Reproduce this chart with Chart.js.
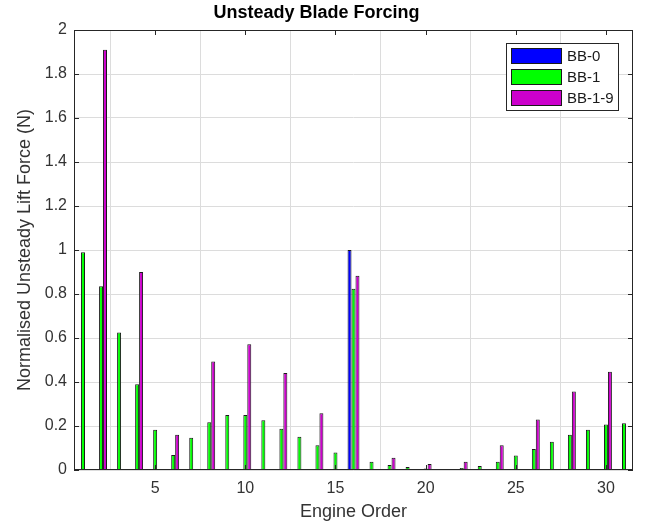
<!DOCTYPE html>
<html>
<head>
<meta charset="utf-8">
<script src="https://cdn.jsdelivr.net/npm/chart.js@4.4.1/dist/chart.umd.min.js"></script>
<style>
  html, body { margin: 0; padding: 0; background: #ffffff; }
  #wrap { width: 649px; height: 527px; }
</style>
</head>
<body>
<div id="wrap"><canvas id="c" width="649" height="527"></canvas></div>
<script>
// Engine orders on the x axis
const engineOrder = [1, 2, 3, 4, 5, 6, 7, 8, 9, 10, 11, 12, 13, 14, 15, 16,
                     17, 18, 19, 20, 21, 22, 23, 24, 25, 26, 27, 28, 29, 30, 31];

// Normalised unsteady lift force per engine order
const bb0 = [0, 0, 0, 0, 0, 0, 0, 0, 0, 0, 0, 0, 0, 0, 0, 1.0,
             0, 0, 0, 0, 0, 0, 0, 0, 0, 0, 0, 0, 0, 0, 0];
const bb1 = [0.99, 0.835, 0.625, 0.39, 0.183, 0.068, 0.147, 0.217, 0.25, 0.25, 0.226, 0.188, 0.151, 0.113, 0.079, 0.824,
             0.038, 0.023, 0.014, 0.007, 0.004, 0.009, 0.018, 0.038, 0.066, 0.095, 0.128, 0.16, 0.183, 0.207, 0.212];
const bb19 = [0, 1.91, 0, 0.90, 0, 0.16, 0, 0.493, 0, 0.572, 0, 0.441, 0, 0.258, 0, 0.883,
              0, 0.056, 0, 0.027, 0, 0.038, 0, 0.112, 0, 0.229, 0, 0.357, 0, 0.447, 0];

const seriesNames = ['BB-0', 'BB-1', 'BB-1-9'];
const seriesColors = ['#0000ff', '#00ff00', '#cc00cc'];

// Axis ticks
const xTickValues = [5, 10, 15, 20, 25, 30];
const yTickValues = [0, 0.2, 0.4, 0.6, 0.8, 1, 1.2, 1.4, 1.6, 1.8, 2];

const FONT = "'Liberation Sans', Arial, Helvetica, sans-serif";
const TEXT = '#333333';

// zero entries are left empty so no outline is drawn on the baseline
const toPoints = arr => engineOrder.map((e, i) => ({ x: e, y: arr[i] === 0 ? null : arr[i] }));

// Box frame with inward ticks on all four sides, plus the boxed legend
const framePlugin = {
  id: 'frame',
  afterDatasetsDraw(chart) {
    const { ctx, chartArea: a, scales: { x, y } } = chart;
    ctx.save();
    ctx.strokeStyle = '#262626';
    ctx.lineWidth = 1;
    ctx.strokeRect(a.left + 0.5, a.top + 0.5, a.right - a.left - 1, a.bottom - a.top - 1);
    const tl = 5;
    ctx.beginPath();
    xTickValues.forEach(v => {
      const px = Math.round(x.getPixelForValue(v)) + 0.5;
      ctx.moveTo(px, a.bottom); ctx.lineTo(px, a.bottom - tl);
      ctx.moveTo(px, a.top); ctx.lineTo(px, a.top + tl);
    });
    yTickValues.forEach(v => {
      const py = Math.round(y.getPixelForValue(v)) + 0.5;
      ctx.moveTo(a.left, py); ctx.lineTo(a.left + tl, py);
      ctx.moveTo(a.right, py); ctx.lineTo(a.right - tl, py);
    });
    ctx.stroke();

    // legend
    const bw = 113, bh = 68;
    const bx = a.right - 14 - bw, by = a.top + 13;
    ctx.fillStyle = '#ffffff';
    ctx.fillRect(bx, by, bw, bh);
    ctx.strokeStyle = '#262626';
    ctx.strokeRect(bx + 0.5, by + 0.5, bw - 1, bh - 1);
    ctx.font = '15px ' + FONT;
    ctx.textBaseline = 'middle';
    ctx.textAlign = 'left';
    chart.data.datasets.forEach((ds, i) => {
      const sy = by + 5 + i * 21;
      ctx.fillStyle = ds.backgroundColor;
      ctx.fillRect(bx + 5, sy, 51, 16);
      ctx.strokeStyle = '#1a1a1a';
      ctx.strokeRect(bx + 5.5, sy + 0.5, 50, 15);
      ctx.fillStyle = '#1a1a1a';
      ctx.fillText(ds.label, bx + 61, sy + 8.5);
    });
    ctx.restore();
  }
};

new Chart(document.getElementById('c'), {
  type: 'bar',
  data: {
    datasets: [bb0, bb1, bb19].map((arr, i) => ({
      label: seriesNames[i],
      data: toPoints(arr),
      backgroundColor: seriesColors[i],
      borderColor: '#1a1a1a',
      borderWidth: 1,
      categoryPercentage: 0.66,
      barPercentage: 1.0
    }))
  },
  options: {
    responsive: false,
    animation: false,
    devicePixelRatio: 1,
    layout: { padding: { top: 0, right: 16, bottom: 0, left: 0 } },
    plugins: {
      legend: { display: false },
      tooltip: { enabled: false },
      title: {
        display: true,
        text: 'Unsteady Blade Forcing',
        color: '#000000',
        font: { family: FONT, size: 18, weight: 'bold' },
        padding: { top: 2, bottom: 6.4 }
      }
    },
    scales: {
      x: {
        type: 'linear',
        min: 0.5,
        max: 31.5,
        offset: false,
        afterBuildTicks: s => { s.ticks = xTickValues.map(v => ({ value: v })); },
        afterFit: s => { s.height = 57; },
        grid: { color: '#dcdcdc', drawTicks: false },
        border: { display: false },
        ticks: { color: TEXT, font: { family: FONT, size: 16 }, padding: 9, maxRotation: 0 },
        title: {
          display: true,
          text: 'Engine Order',
          color: TEXT,
          font: { family: FONT, size: 18 },
          padding: { top: 0, bottom: 4 }
        }
      },
      y: {
        min: 0,
        max: 2,
        afterBuildTicks: s => { s.ticks = yTickValues.map(v => ({ value: v })); },
        afterFit: s => { s.width = 74; },
        grid: { color: '#dcdcdc', drawTicks: false },
        border: { display: false },
        ticks: {
          color: TEXT,
          font: { family: FONT, size: 16 },
          padding: 7,
          callback: v => String(+Number(v).toFixed(1))
        },
        title: {
          display: true,
          text: 'Normalised Unsteady Lift Force (N)',
          color: TEXT,
          font: { family: FONT, size: 18 },
          padding: { top: 14, bottom: 0 }
        }
      }
    }
  },
  plugins: [framePlugin]
});
</script>
</body>
</html>
